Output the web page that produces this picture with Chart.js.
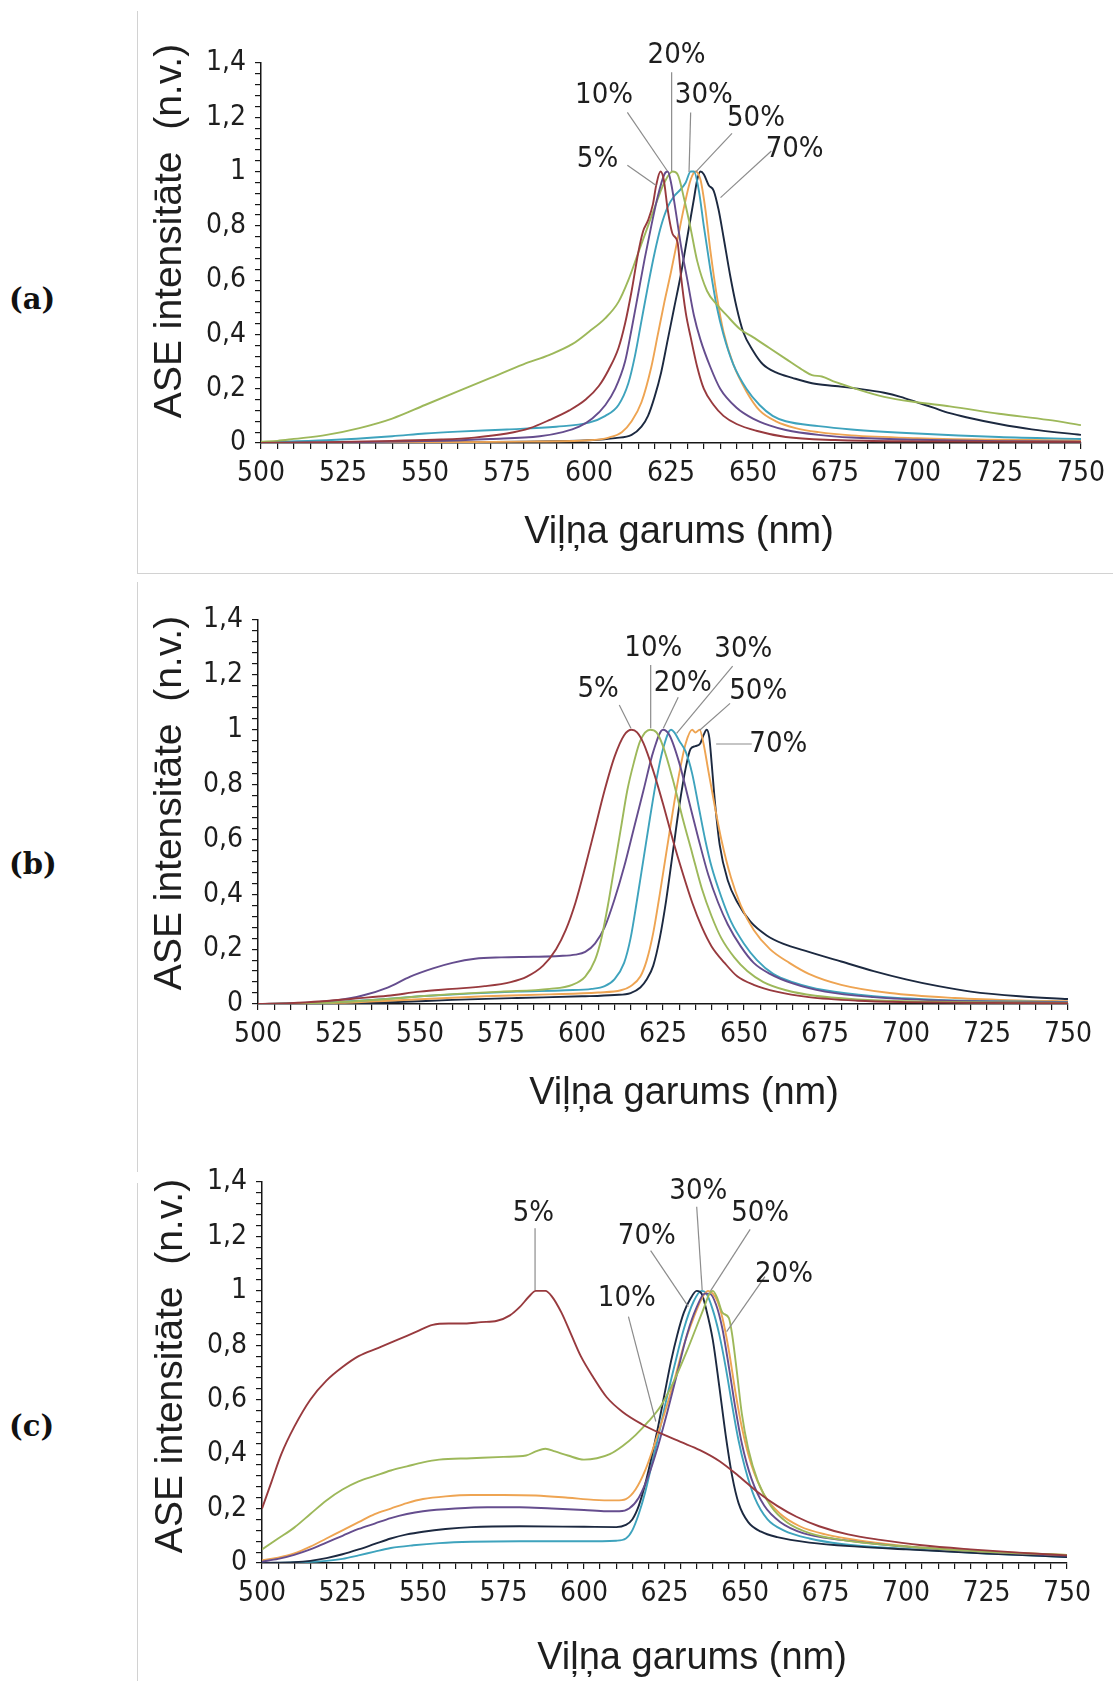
<!DOCTYPE html>
<html>
<head>
<meta charset="utf-8">
<title>ASE spektri</title>
<script src="https://cdn.jsdelivr.net/npm/chart.js@4.4.1/dist/chart.umd.min.js"></script>
<style>
  html, body { margin: 0; padding: 0; background: #fff; }
  body { width: 1113px; height: 1681px; position: relative; overflow: hidden; }
  canvas { position: absolute; left: 137px; }
  .tag { position: absolute; left: 9px; line-height: 34px; font: bold 29px 'DejaVu Serif', serif; color: #111; }
  .vline { position: absolute; left: 137px; width: 0; border-left: 1px solid #d2d2d2; }
  .hline { position: absolute; left: 137px; right: 0; height: 0; border-top: 1px solid #d2d2d2; }
</style>
</head>
<body>
<div class="vline" style="top:11px;height:562px"></div>
<div class="hline" style="top:573px"></div>
<div class="vline" style="top:582px;height:590px"></div>
<div class="vline" style="top:1183px;height:498px"></div>

<div class="tag" style="top:282px">(a)</div>
<div class="tag" style="top:847px">(b)</div>
<div class="tag" style="top:1409px">(c)</div>

<canvas id="chartA" width="976" height="562" style="top:11px"></canvas>
<canvas id="chartB" width="976" height="560" style="top:580px"></canvas>
<canvas id="chartC" width="976" height="541" style="top:1140px"></canvas>

<script>
// tick labels
var waveLabels = [500, 525, 550, 575, 600, 625, 650, 675, 700, 725, 750];
var intensityLabels = [0, 0.2, 0.4, 0.6, 0.8, 1, 1.2, 1.4];

// (a) [wavelength nm, intensity]
var a5 = [[500,0],[520,0.003],[540,0.008],[555,0.013],[565,0.02],[575,0.035],[582,0.055],[588,0.085],[594,0.12],[599,0.16],[603,0.21],[606,0.27],[609,0.35],[611,0.44],[613,0.56],[615,0.7],[616.5,0.78],[618,0.82],[619.5,0.88],[620.5,0.95],[621.8,1],[622.8,0.97],[624,0.86],[625.5,0.77],[627,0.74],[628,0.62],[629.5,0.48],[631,0.39],[633,0.28],[635,0.2],[638,0.14],[641,0.1],[645,0.07],[651,0.045],[660,0.022],[675,0.011],[700,0.006],[750,0.004]];
var a10 = [[500,0],[530,0.003],[550,0.007],[570,0.015],[585,0.025],[592,0.04],[597,0.06],[601,0.09],[605,0.14],[608,0.2],[611,0.3],[613,0.42],[615,0.55],[617,0.68],[619,0.8],[621,0.91],[623,0.99],[624,1],[625,0.96],[626.5,0.85],[628,0.73],[630,0.6],[632,0.47],[634,0.38],[637,0.28],[640,0.2],[645,0.13],[650,0.09],[655,0.065],[660,0.048],[670,0.03],[680,0.02],[700,0.012],[725,0.007],[750,0.005]];
var a20 = [[500,0.005],[505,0.008],[510,0.015],[520,0.03],[530,0.055],[540,0.09],[550,0.14],[560,0.19],[570,0.24],[580,0.29],[588,0.325],[595,0.365],[600,0.41],[605,0.46],[609,0.52],[612,0.6],[615,0.7],[618,0.8],[621,0.9],[623,0.96],[625.5,1],[627,0.99],[629,0.9],[631,0.79],[633,0.67],[636,0.56],[639,0.51],[642,0.47],[646,0.42],[650,0.39],[655,0.35],[660,0.31],[665,0.27],[668,0.25],[671,0.245],[675,0.225],[680,0.205],[690,0.17],[700,0.15],[710,0.135],[725,0.108],[740,0.085],[750,0.066]];
var a30 = [[500,0.002],[520,0.01],[540,0.025],[550,0.035],[560,0.042],[575,0.05],[590,0.06],[600,0.075],[605,0.1],[609,0.14],[612,0.22],[614,0.32],[616,0.45],[618,0.58],[620,0.7],[622,0.8],[624,0.87],[626,0.91],[628,0.935],[629.5,0.96],[631,1],[632,1],[633.5,0.93],[635,0.8],[637,0.64],[639,0.5],[641,0.4],[644,0.29],[648,0.2],[652,0.14],[656,0.1],[660,0.08],[670,0.062],[680,0.05],[700,0.035],[725,0.022],[750,0.015]];
var a50 = [[500,0],[550,0.002],[580,0.005],[600,0.01],[606,0.02],[610,0.04],[613,0.08],[616,0.15],[619,0.28],[621,0.4],[623,0.52],[625,0.63],[627,0.75],[629,0.87],[631,0.97],[632.5,1],[634,0.97],[635.5,0.86],[637,0.71],[639,0.54],[641,0.41],[644,0.29],[648,0.19],[652,0.12],[657,0.08],[663,0.055],[670,0.04],[680,0.028],[700,0.018],[725,0.012],[750,0.01]];
var a70 = [[500,0],[550,0.002],[580,0.005],[600,0.01],[608,0.018],[613,0.03],[616,0.06],[618,0.1],[620,0.17],[622,0.26],[624,0.38],[626,0.5],[628,0.62],[630,0.76],[632,0.9],[633,0.97],[634,1],[635,0.99],[636.5,0.95],[638,0.93],[639.5,0.86],[641,0.76],[643,0.62],[645,0.5],[647,0.41],[650,0.34],[653,0.29],[657,0.26],[662,0.24],[668,0.22],[675,0.21],[682,0.2],[690,0.185],[695,0.17],[700,0.15],[705,0.13],[710,0.11],[715,0.095],[725,0.07],[735,0.05],[750,0.03]];

// (b)
var b5 = [[500,0],[510,0.003],[520,0.01],[530,0.02],[540,0.03],[550,0.045],[560,0.055],[570,0.065],[578,0.08],[583,0.1],[588,0.14],[592,0.2],[595,0.27],[598,0.37],[601,0.5],[604,0.64],[607,0.78],[610,0.9],[613,0.98],[615.3,1],[617,0.99],[619,0.95],[622,0.85],[625,0.73],[628,0.6],[631,0.48],[634,0.37],[637,0.28],[640,0.21],[644,0.15],[648,0.1],[653,0.07],[660,0.045],[670,0.025],[685,0.012],[700,0.007],[725,0.004],[750,0.003]];
var b10 = [[500,0],[520,0.004],[530,0.01],[540,0.018],[550,0.028],[560,0.036],[575,0.045],[590,0.055],[597,0.07],[601,0.1],[604,0.16],[606,0.24],[608,0.36],[610,0.5],[612,0.64],[614,0.78],[616,0.88],[618,0.96],[621,1],[623,0.99],[625,0.94],[628,0.82],[631,0.68],[634,0.55],[637,0.42],[640,0.32],[643,0.24],[647,0.17],[651,0.12],[656,0.08],[663,0.05],[672,0.03],[685,0.017],[700,0.01],[750,0.004]];
var b20 = [[500,0],[515,0.005],[525,0.015],[532,0.03],[540,0.06],[547,0.1],[554,0.13],[560,0.15],[567,0.165],[575,0.17],[585,0.172],[593,0.175],[598,0.18],[601,0.19],[604,0.22],[607,0.28],[610,0.38],[613,0.5],[616,0.64],[619,0.78],[622,0.92],[625,1],[627,0.98],[630,0.88],[633,0.74],[636,0.6],[639,0.47],[642,0.37],[645,0.29],[649,0.21],[653,0.15],[658,0.11],[665,0.075],[675,0.045],[690,0.025],[710,0.013],[750,0.006]];
var b30 = [[500,0],[520,0.005],[535,0.015],[550,0.028],[565,0.038],[580,0.045],[595,0.05],[603,0.055],[607,0.065],[610,0.09],[613,0.15],[615,0.24],[617,0.38],[619,0.53],[621,0.68],[623,0.82],[625,0.93],[627.5,1],[628.5,0.99],[630,0.96],[632,0.92],[634,0.84],[636,0.72],[638,0.6],[640,0.5],[643,0.39],[646,0.3],[650,0.22],[654,0.16],[659,0.11],[665,0.08],[675,0.05],[690,0.028],[710,0.015],[750,0.007]];
var b50 = [[500,0],[525,0.004],[540,0.012],[555,0.02],[570,0.028],[590,0.035],[605,0.042],[612,0.05],[615,0.065],[618,0.1],[620,0.16],[622,0.26],[624,0.4],[626,0.55],[628,0.7],[630,0.84],[632,0.95],[634,1],[635,0.99],[636.3,1],[637.5,0.95],[639,0.85],[641,0.72],[643,0.6],[646,0.46],[649,0.36],[653,0.27],[658,0.2],[664,0.15],[670,0.11],[680,0.07],[695,0.04],[715,0.022],[735,0.013],[750,0.01]];
var b70 = [[500,0],[530,0.002],[545,0.008],[560,0.015],[580,0.022],[600,0.028],[610,0.033],[615,0.04],[618,0.06],[620,0.09],[622,0.14],[624,0.24],[626,0.38],[628,0.55],[630,0.72],[632,0.86],[633.5,0.93],[635,0.94],[636.5,0.95],[637.5,0.98],[638.5,1],[639.3,0.97],[640,0.88],[641,0.74],[642.5,0.58],[645,0.45],[648,0.37],[652,0.3],[657,0.25],[662,0.22],[670,0.19],[680,0.155],[690,0.12],[700,0.09],[710,0.065],[720,0.045],[735,0.028],[750,0.018]];

// (c)
var c5 = [[500,0.2],[503,0.3],[506,0.4],[510,0.5],[515,0.6],[520,0.67],[525,0.72],[530,0.76],[536,0.79],[542,0.82],[548,0.85],[553,0.875],[558,0.88],[563,0.88],[568,0.885],[573,0.89],[577,0.91],[580,0.94],[583,0.98],[585,1],[588,1],[590,0.98],[593,0.92],[596,0.84],[599,0.76],[603,0.68],[607,0.61],[612,0.555],[618,0.51],[624,0.475],[630,0.445],[636,0.415],[642,0.375],[648,0.32],[654,0.26],[660,0.21],[666,0.17],[673,0.135],[682,0.105],[692,0.085],[705,0.065],[720,0.05],[735,0.038],[750,0.028]];
var c10 = [[500,0.05],[505,0.09],[510,0.13],[515,0.18],[520,0.23],[525,0.27],[530,0.3],[535,0.32],[540,0.34],[545,0.355],[550,0.37],[555,0.38],[565,0.385],[575,0.39],[582,0.395],[585,0.41],[588,0.42],[591,0.41],[595,0.395],[600,0.38],[604,0.385],[608,0.4],[612,0.43],[616,0.47],[620,0.52],[624,0.58],[628,0.67],[632,0.78],[635,0.87],[637,0.93],[639,0.99],[640,1],[641.5,0.97],[643,0.92],[645,0.9],[646,0.84],[647.5,0.7],[649,0.55],[651,0.42],[654,0.3],[658,0.21],[663,0.15],[670,0.11],[680,0.085],[695,0.065],[715,0.048],[735,0.036],[750,0.03]];
var c20 = [[500,0.01],[505,0.02],[510,0.035],[515,0.06],[520,0.09],[525,0.12],[530,0.15],[535,0.18],[540,0.2],[545,0.22],[550,0.235],[557,0.245],[565,0.25],[575,0.25],[585,0.248],[595,0.24],[603,0.232],[610,0.23],[613,0.235],[616,0.27],[619,0.34],[622,0.44],[625,0.55],[628,0.67],[631,0.8],[634,0.9],[636.5,0.97],[638.5,1],[640,0.99],[641.5,0.96],[643,0.9],[645,0.78],[647,0.63],[649,0.5],[652,0.36],[656,0.25],[661,0.18],[667,0.135],[675,0.105],[687,0.08],[700,0.062],[720,0.045],[750,0.03]];
var c30 = [[500,0],[510,0.002],[520,0.008],[525,0.015],[530,0.028],[535,0.042],[540,0.055],[547,0.065],[555,0.073],[565,0.078],[580,0.08],[600,0.08],[610,0.082],[613,0.09],[615,0.12],[617,0.18],[619,0.26],[621,0.36],[623,0.46],[625,0.57],[628,0.72],[631,0.86],[634,0.96],[636.5,1],[638,0.99],[640,0.93],[642,0.84],[644,0.72],[646,0.58],[648,0.45],[650,0.35],[653,0.24],[657,0.16],[662,0.12],[670,0.09],[680,0.07],[700,0.052],[725,0.035],[750,0.022]];
var c50 = [[500,0.005],[505,0.015],[510,0.03],[515,0.05],[520,0.075],[525,0.1],[530,0.125],[535,0.145],[540,0.165],[545,0.18],[550,0.19],[560,0.2],[570,0.205],[580,0.205],[590,0.2],[600,0.195],[607,0.19],[611,0.19],[614,0.2],[617,0.24],[620,0.32],[623,0.43],[626,0.56],[629,0.7],[632,0.84],[635,0.94],[637.5,0.99],[639,0.99],[641,0.95],[643,0.86],[645,0.72],[647,0.57],[649,0.44],[652,0.31],[656,0.21],[661,0.15],[668,0.11],[680,0.085],[700,0.06],[725,0.04],[750,0.027]];
var c70 = [[500,0],[510,0.003],[515,0.008],[520,0.018],[525,0.032],[530,0.05],[535,0.07],[540,0.09],[545,0.105],[550,0.115],[557,0.125],[565,0.132],[580,0.135],[600,0.133],[610,0.132],[613,0.14],[615,0.16],[617,0.21],[619,0.29],[621,0.39],[623,0.5],[625,0.62],[627,0.74],[629,0.84],[631,0.92],[633,0.97],[635,1],[636.5,0.99],[638,0.93],[640,0.82],[642,0.65],[644,0.47],[646,0.32],[648,0.22],[651,0.15],[655,0.115],[660,0.095],[670,0.075],[685,0.06],[700,0.05],[725,0.035],[750,0.022]];

var RED = '#983a3e', PURPLE = '#654d8e', GREEN = '#9db85a', TEAL = '#3ea3bd', ORANGE = '#eea452', NAVY = '#1c2940';

var TICK_FONT = "'DejaVu Sans Condensed', 'Liberation Sans Narrow', sans-serif";
var TITLE_FONT = "'Liberation Sans', Arial, sans-serif";

// callouts: text at [nm, value], leader from -> to
var notesA = [
    { text: '5%',  at: [602.6, 1.045], from: [611.7, 1.023], to: [620.5, 0.949] },
    { text: '10%', at: [604.6, 1.279], from: [611.7, 1.218], to: [623.9, 1.002] },
    { text: '20%', at: [626.7, 1.427], from: [625.2, 1.366], to: [625.2, 1.002] },
    { text: '30%', at: [635.0, 1.282], from: [631.0, 1.218], to: [630.5, 0.998] },
    { text: '50%', at: [650.9, 1.196], from: [643.6, 1.141], to: [632.5, 0.998] },
    { text: '70%', at: [662.7, 1.082], from: [655.6, 1.076], to: [640.1, 0.904] }
];
var notesB = [
    { text: '5%',  at: [605.0, 1.147], from: [611.5, 1.090], to: [615.1, 1.005] },
    { text: '10%', at: [622.0, 1.297], from: [621.2, 1.236], to: [621.2, 1.005] },
    { text: '20%', at: [631.1, 1.169], from: [629.7, 1.118], to: [625.1, 1.005] },
    { text: '30%', at: [649.8, 1.293], from: [646.5, 1.232], to: [629.2, 0.987] },
    { text: '50%', at: [654.4, 1.139], from: [645.7, 1.096], to: [636.4, 0.999] },
    { text: '70%', at: [660.6, 0.948], from: [652.4, 0.948], to: [641.4, 0.948] }
];
var notesC = [
    { text: '5%',  at: [584.3, 1.285], from: [584.8, 1.230], to: [584.8, 1.003] },
    { text: '10%', at: [613.3, 0.973], from: [613.8, 0.905], to: [622.3, 0.52] },
    { text: '20%', at: [662.1, 1.062], from: [656.2, 1.052], to: [644.3, 0.850] },
    { text: '30%', at: [635.5, 1.364], from: [635.0, 1.309], to: [636.7, 1.003] },
    { text: '50%', at: [654.7, 1.285], from: [651.6, 1.226], to: [639.3, 1.0] },
    { text: '70%', at: [619.5, 1.199], from: [620.7, 1.148], to: [632.4, 0.942] }
];

var panels = [
    { id: 'chartA', top: 11, height: 562,
      plot: { left: 261, right: 1083, top: 63, bottom: 443 },
      yTitle: [170, 231], xTitle: [679, 533],
      series: [[a5, RED], [a10, PURPLE], [a20, GREEN], [a30, TEAL], [a50, ORANGE], [a70, NAVY]],
      notes: notesA },
    { id: 'chartB', top: 580, height: 560,
      plot: { left: 258, right: 1068, top: 620, bottom: 1004 },
      yTitle: [170, 803], xTitle: [684, 1094],
      series: [[b5, RED], [b10, GREEN], [b20, PURPLE], [b30, TEAL], [b50, ORANGE], [b70, NAVY]],
      notes: notesB },
    { id: 'chartC', top: 1140, height: 541,
      plot: { left: 262, right: 1067, top: 1182, bottom: 1563 },
      yTitle: [171, 1366], xTitle: [692, 1659],
      series: [[c5, RED], [c10, GREEN], [c50, PURPLE], [c20, ORANGE], [c70, NAVY], [c30, TEAL]],
      notes: notesC }
];

var CANVAS_LEFT = 137, CANVAS_WIDTH = 976;

function fmtNum(v) {
    return String(Math.round(v * 10) / 10).replace('.', ',');
}

// leader lines, percent labels and both axis titles
function decorations(p) {
    return {
        id: 'decorations',
        afterDatasetsDraw: function (chart) {
            var ctx = chart.ctx, x = chart.scales.x, y = chart.scales.y;
            ctx.save();
            ctx.strokeStyle = '#8c8c8c';
            ctx.lineWidth = 1.2;
            p.notes.forEach(function (n) {
                ctx.beginPath();
                ctx.moveTo(x.getPixelForValue(n.from[0]), y.getPixelForValue(n.from[1]));
                ctx.lineTo(x.getPixelForValue(n.to[0]), y.getPixelForValue(n.to[1]));
                ctx.stroke();
            });
            ctx.fillStyle = '#1e1e1e';
            ctx.font = '29px ' + TICK_FONT;
            ctx.textAlign = 'center';
            ctx.textBaseline = 'middle';
            p.notes.forEach(function (n) {
                ctx.fillText(n.text, x.getPixelForValue(n.at[0]), y.getPixelForValue(n.at[1]));
            });

            ctx.font = '38px ' + TITLE_FONT;
            ctx.fillText('Viļņa garums (nm)', p.xTitle[0] - CANVAS_LEFT, p.xTitle[1] - p.top);
            ctx.font = '39px ' + TITLE_FONT;
            ctx.translate(p.yTitle[0] - CANVAS_LEFT, p.yTitle[1] - p.top);
            ctx.rotate(-Math.PI / 2);
            ctx.fillText('ASE intensitāte  (n.v.)', 0, 0);
            ctx.restore();
        }
    };
}

panels.forEach(function (p) {
    var yWidth = p.plot.left - CANVAS_LEFT;
    var xHeight = p.top + p.height - p.plot.bottom;
    var padTop = p.plot.top - p.top;
    var padRight = CANVAS_LEFT + CANVAS_WIDTH - p.plot.right;

    var datasets = p.series.map(function (s) {
        return {
            data: s[0].map(function (pt) { return { x: pt[0], y: pt[1] }; }),
            borderColor: s[1],
            borderWidth: 1.9,
            pointRadius: 0,
            fill: false,
            cubicInterpolationMode: 'monotone'
        };
    });

    new Chart(document.getElementById(p.id), {
        type: 'line',
        data: { datasets: datasets },
        options: {
            responsive: false,
            animation: false,
            events: [],
            layout: { padding: { top: padTop, right: padRight, left: 0, bottom: 0 } },
            plugins: { legend: { display: false }, tooltip: { enabled: false } },
            scales: {
                x: {
                    type: 'linear',
                    min: 500,
                    max: 750,
                    afterFit: function (scale) { scale.height = xHeight; },
                    border: { display: true, color: '#161616', width: 1.5 },
                    grid: { drawOnChartArea: false, drawTicks: true, tickLength: 6, color: '#161616', lineWidth: 1.2 },
                    ticks: {
                        stepSize: 5,
                        autoSkip: false,
                        maxRotation: 0,
                        minRotation: 0,
                        padding: 8,
                        color: '#1e1e1e',
                        font: { family: TICK_FONT, size: 28 },
                        callback: function (v) { return waveLabels.indexOf(Math.round(v)) >= 0 ? String(Math.round(v)) : ''; }
                    }
                },
                y: {
                    type: 'linear',
                    min: 0,
                    max: 1.4,
                    afterFit: function (scale) { scale.width = yWidth; },
                    border: { display: true, color: '#161616', width: 1.5 },
                    grid: { drawOnChartArea: false, drawTicks: true, tickLength: 6, color: '#161616', lineWidth: 1.2 },
                    ticks: {
                        stepSize: 0.04,
                        autoSkip: false,
                        padding: 9,
                        color: '#1e1e1e',
                        font: { family: TICK_FONT, size: 28 },
                        callback: function (v) {
                            var r = Math.round(v * 100) / 100;
                            return intensityLabels.indexOf(r) >= 0 ? fmtNum(r) : '';
                        }
                    }
                }
            }
        },
        plugins: [decorations(p)]
    });
});
</script>
</body>
</html>
